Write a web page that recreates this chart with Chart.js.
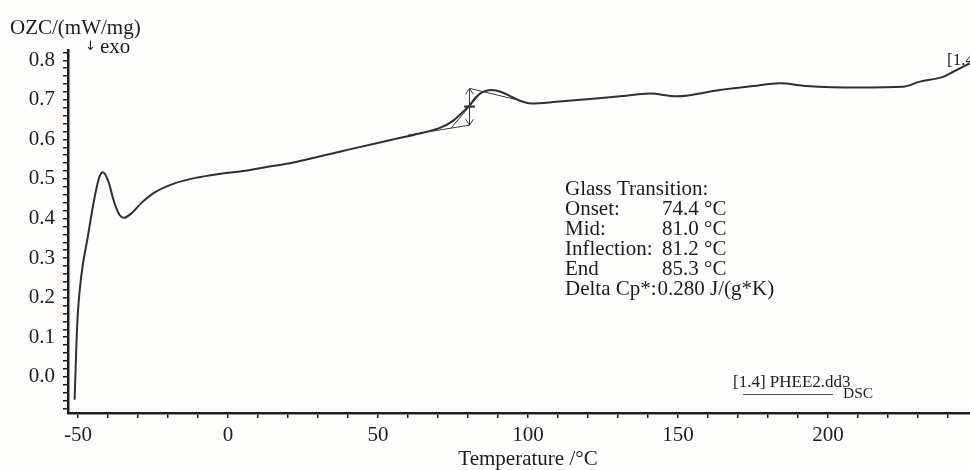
<!DOCTYPE html>
<html>
<head>
<meta charset="utf-8">
<script src="https://cdn.jsdelivr.net/npm/chart.js@4.4.1/dist/chart.umd.min.js"></script>
<style>
html,body{margin:0;padding:0;background:#fffefd;}
canvas{display:block;}
</style>
</head>
<body>
<canvas id="c" width="970" height="470"></canvas>
<script>
// ---- data ----
const temperatures = [-51.1, -50.2, -48.9, -46.7, -44.4, -42.8, -41.7, -40.0, -37.8, -36.1, -34.7, -32.2, -28.9, -24.4, -17.8, -10.0, 0.0, 5.0, 12.0, 20.6, 37.2, 53.9, 63.9, 70.6, 75.0, 77.8, 80.3, 82.8, 85.0, 87.8, 91.1, 95.0, 98.3, 101.1, 109.4, 120.6, 130.6, 140.6, 149.5, 163.9, 175.0, 183.9, 192.8, 210.6, 225.0, 230.6, 238.3, 241.7, 247.2];
const heatFlow = [-0.058, 0.136, 0.253, 0.354, 0.455, 0.506, 0.517, 0.497, 0.439, 0.409, 0.402, 0.413, 0.439, 0.466, 0.489, 0.504, 0.516, 0.520, 0.529, 0.540, 0.569, 0.598, 0.615, 0.629, 0.647, 0.666, 0.684, 0.708, 0.720, 0.725, 0.720, 0.706, 0.695, 0.691, 0.695, 0.702, 0.709, 0.716, 0.709, 0.725, 0.735, 0.742, 0.735, 0.731, 0.733, 0.746, 0.758, 0.771, 0.792];

// glass-transition evaluation construction lines
const baselineBeforeT = [60.0, 80.5];
const baselineBeforeV = [0.611, 0.636];
const baselineAfterT = [80.5, 97.0];
const baselineAfterV = [0.729, 0.699];
const inflectionTangentT = [74.4, 84.8];
const inflectionTangentV = [0.629, 0.722];
const stepT = [80.5, 80.5];
const stepV = [0.636, 0.729];
const midMarkT = [78.7, 82.3];
const midMarkV = [0.683, 0.683];

const xTickLabels = [-50, 0, 50, 100, 150, 200];
const yTickLabels = [0.0, 0.1, 0.2, 0.3, 0.4, 0.5, 0.6, 0.7, 0.8];

const yAxisTitle = 'OZC/(mW/mg)';
const xAxisTitle = 'Temperature /°C';
const exoLabel = 'exo';
const gtTitle = 'Glass Transition:';
const gtNames = ['Onset:', 'Mid:', 'Inflection:', 'End'];
const gtValues = ['74.4 °C', '81.0 °C', '81.2 °C', '85.3 °C'];
const gtDeltaName = 'Delta Cp*:';
const gtDeltaValue = '0.280 J/(g*K)';
const curveName = '[1.4] PHEE2.dd3';
const curveType = 'DSC';
const curveTag = '[1.4';

// ---- build datasets ----
const pts = (xs, ys) => xs.map((v, i) => ({x: v, y: ys[i]}));
const FONT = "'Liberation Serif','Times New Roman',serif";
const INK = '#1c1c1c';
const CURVE = '#2a3034';

const thin = (xs, ys, w) => ({
  data: pts(xs, ys), borderColor: '#3a3a3a', borderWidth: w || 1,
  pointRadius: 0, tension: 0, fill: false
});

const annot = {
  id: 'annot',
  afterDatasetsDraw(chart) {
    const {ctx, scales: {x, y}} = chart;
    ctx.save();
    // arrow heads on the step line
    ctx.strokeStyle = '#3a3a3a';
    ctx.lineWidth = 1;
    const px = x.getPixelForValue(stepT[0]);
    const pTop = y.getPixelForValue(stepV[1]);
    const pBot = y.getPixelForValue(stepV[0]);
    ctx.beginPath();
    ctx.moveTo(px - 4, pTop + 6); ctx.lineTo(px, pTop); ctx.lineTo(px + 4, pTop + 6);
    ctx.moveTo(px - 4, pBot - 6); ctx.lineTo(px, pBot); ctx.lineTo(px + 4, pBot - 6);
    ctx.stroke();
    ctx.restore();
  },
  afterDraw(chart) {
    const {ctx} = chart;
    ctx.save();
    ctx.fillStyle = INK;
    ctx.textAlign = 'left';
    ctx.textBaseline = 'alphabetic';
    ctx.font = `21px ${FONT}`;
    ctx.fillText(yAxisTitle, 10, 34);
    ctx.fillText(exoLabel, 100, 53);
    ctx.textAlign = 'center';
    ctx.fillText(xAxisTitle, 528, 465);
    ctx.textAlign = 'left';
    // glass transition block
    ctx.fillText(gtTitle, 565, 195);
    gtNames.forEach((n, i) => {
      ctx.fillText(n, 565, 215 + i * 20);
      ctx.fillText(gtValues[i], 662, 215 + i * 20);
    });
    ctx.fillText(gtDeltaName, 565, 295);
    const dw = ctx.measureText(gtDeltaName).width;
    ctx.fillText(gtDeltaValue, 565 + dw + 1, 295);
    // exo arrow
    ctx.font = `13px 'DejaVu Sans',sans-serif`;
    ctx.fillText('↓', 85, 50);
    // legend
    ctx.font = `17px ${FONT}`;
    ctx.fillText(curveName, 733, 387);
    ctx.fillText(curveTag, 947, 65);
    ctx.font = `15.5px ${FONT}`;
    ctx.fillText(curveType, 843, 398);
    ctx.strokeStyle = '#555';
    ctx.lineWidth = 1.2;
    ctx.beginPath();
    ctx.moveTo(743, 394.5); ctx.lineTo(833, 394.5);
    ctx.stroke();
    ctx.restore();
  }
};

new Chart(document.getElementById('c'), {
  type: 'line',
  data: {
    datasets: [
      {
        data: pts(temperatures, heatFlow), borderColor: CURVE, borderWidth: 2,
        pointRadius: 0, cubicInterpolationMode: 'monotone', fill: false
      },
      thin(baselineBeforeT, baselineBeforeV),
      thin(baselineAfterT, baselineAfterV),
      thin(inflectionTangentT, inflectionTangentV),
      thin(stepT, stepV),
      thin(midMarkT, midMarkV, 2.2)
    ]
  },
  options: {
    responsive: false,
    animation: false,
    devicePixelRatio: 1,
    layout: {padding: {top: 50, right: 0, left: 0, bottom: 0}},
    plugins: {legend: {display: false}, tooltip: {enabled: false}},
    scales: {
      x: {
        type: 'linear', min: -53.3, max: 247.3,
        afterFit: s => { s.height = 57; },
        border: {display: true, color: '#1e1e1e', width: 2.5},
        grid: {drawOnChartArea: false, drawTicks: true, tickLength: 5, color: '#1e1e1e', lineWidth: 1.5},
        ticks: {
          stepSize: 10, includeBounds: false, autoSkip: false, maxRotation: 0, padding: 5,
          color: INK, font: {family: FONT, size: 21},
          callback: v => xTickLabels.includes(Math.round(v)) && Math.abs(v - Math.round(v)) < 1e-6 ? String(Math.round(v)) : ''
        }
      },
      y: {
        type: 'linear', min: -0.0915, max: 0.826,
        afterFit: s => { s.width = 68; },
        border: {display: true, color: '#1e1e1e', width: 2.5},
        grid: {drawOnChartArea: false, drawTicks: true, tickLength: 5, color: '#1e1e1e', lineWidth: 1.5},
        ticks: {
          stepSize: 0.02, includeBounds: false, autoSkip: false, padding: 8,
          color: INK, font: {family: FONT, size: 21},
          callback: v => {
            const r = Math.round(v * 100) / 100;
            return yTickLabels.some(t => Math.abs(t - r) < 1e-9) ? r.toFixed(1) : '';
          }
        }
      }
    }
  },
  plugins: [annot]
});
</script>
</body>
</html>
